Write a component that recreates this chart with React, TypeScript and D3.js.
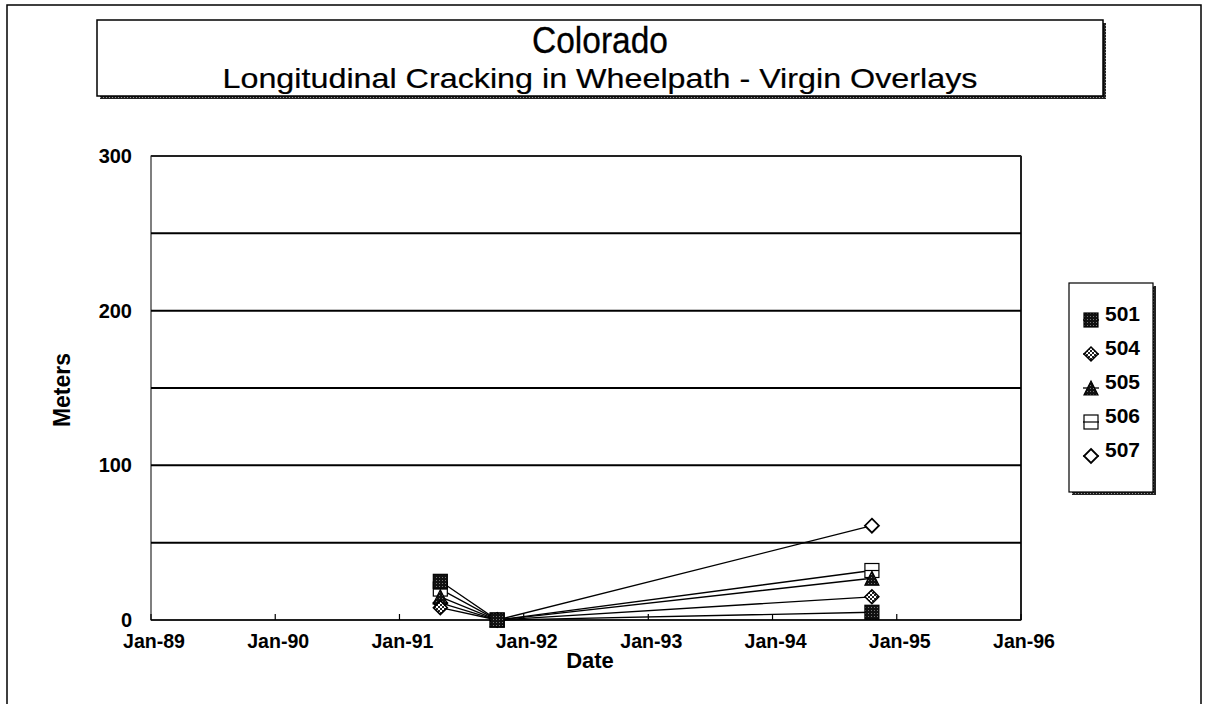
import React from "react";
import * as d3 from "d3";

const seriesNames = ["501", "504", "505", "506", "507"];
const dates = ["1991-05-01", "1991-10-15", "1994-10-20"];
const v501 = [25, 0, 5];
const v504 = [8, 0, 15];
const v505 = [15, 0, 27];
const v506 = [20, 0, 32];
const v507 = [11, 0, 61];
const seriesValues = [v501, v504, v505, v506, v507];
const xTickYears = [1989, 1990, 1991, 1992, 1993, 1994, 1995, 1996];
const yTicks = [0, 100, 200, 300];
const yGrid = [50, 100, 150, 200, 250];

const W = 1206;
const H = 704;
const plot = { left: 151, right: 1021, top: 156, bottom: 620 };
const FONT = "'Liberation Sans', Arial, sans-serif";

function Marker({ type, x, y }: { type: string; x: number; y: number }) {
  const s = 7;
  if (type === "501") {
    return <rect x={x - s} y={y - s} width={2 * s} height={2 * s} fill="url(#dots)" stroke="#000" strokeWidth={1.2} />;
  }
  if (type === "504") {
    return (
      <path d={`M${x},${y - s}L${x + s},${y}L${x},${y + s}L${x - s},${y}Z`} fill="url(#check)" stroke="#000" strokeWidth={1.5} />
    );
  }
  if (type === "505") {
    return (
      <path d={`M${x},${y - s}L${x + s},${y + s}L${x - s},${y + s}Z`} fill="url(#dots)" stroke="#000" strokeWidth={1.2} />
    );
  }
  if (type === "506") {
    return (
      <g>
        <rect x={x - s} y={y - s} width={2 * s} height={2 * s} fill="#fff" stroke="#000" strokeWidth={1.2} />
        <line x1={x - s} x2={x + s} y1={y} y2={y} stroke="#000" strokeWidth={1.2} />
      </g>
    );
  }
  return (
    <path d={`M${x},${y - s}L${x + s},${y}L${x},${y + s}L${x - s},${y}Z`} fill="#fff" stroke="#000" strokeWidth={1.8} />
  );
}

export default function App() {
  const parse = d3.timeParse("%Y-%m-%d");
  const xDates = dates.map((d) => parse(d) as Date);
  const x = d3
    .scaleTime()
    .domain([new Date(1989, 0, 1), new Date(1996, 0, 1)])
    .range([plot.left, plot.right]);
  const y = d3.scaleLinear().domain([0, 300]).range([plot.bottom, plot.top]);
  const fmt = d3.timeFormat("%b-%y");
  const line = d3
    .line<number>()
    .x((_, i) => x(xDates[i]))
    .y((v) => y(v));

  const order = [4, 3, 2, 1, 0];
  const legendX = 1069;
  const legendY = 283;
  const legendW = 84;
  const legendH = 209;

  return (
    <svg width={W} height={H} style={{ position: "absolute", left: 0, top: 0, background: "#fff" }} fontFamily={FONT}>
      <defs>
        <pattern id="dots" width="3" height="3" patternUnits="userSpaceOnUse">
          <rect width="3" height="3" fill="#111" />
          <rect x="1" y="1" width="1" height="1" fill="#777" />
        </pattern>
        <pattern id="check" width="4" height="4" patternUnits="userSpaceOnUse">
          <rect width="4" height="4" fill="#fff" />
          <rect width="2" height="2" fill="#222" />
          <rect x="2" y="2" width="2" height="2" fill="#222" />
        </pattern>
        <pattern id="shadow" width="3" height="3" patternUnits="userSpaceOnUse">
          <rect width="3" height="3" fill="#222" />
          <rect x="1" y="1" width="1" height="1" fill="#999" />
        </pattern>
      </defs>

      {/* outer border */}
      <rect x={7} y={5} width={1194} height={720} fill="none" stroke="#000" strokeWidth={1.5} />

      {/* title box */}
      <rect x={100} y={23} width={1006} height={76} fill="url(#shadow)" />
      <rect x={97} y={20} width={1006} height={76} fill="#fff" stroke="#000" strokeWidth={1.5} />
      <text x={600} y={53} textAnchor="middle" fontSize={36} fill="#000" stroke="#000" strokeWidth={0.3} textLength={136} lengthAdjust="spacingAndGlyphs">
        Colorado
      </text>
      <text x={600} y={88} textAnchor="middle" fontSize={28} fill="#000" stroke="#000" strokeWidth={0.2} textLength={755} lengthAdjust="spacingAndGlyphs">
        Longitudinal Cracking in Wheelpath - Virgin Overlays
      </text>

      {/* plot area */}
      <rect x={plot.left} y={plot.top} width={plot.right - plot.left} height={plot.bottom - plot.top} fill="#fff" stroke="#000" strokeWidth={1} />
      <line x1={plot.left} x2={plot.right} y1={plot.top} y2={plot.top} stroke="#222" strokeWidth={2} />
      <line x1={plot.right} x2={plot.right} y1={plot.top} y2={plot.bottom} stroke="#222" strokeWidth={2} />
      {yGrid.map((g) => (
        <line key={g} x1={plot.left} x2={plot.right} y1={y(g)} y2={y(g)} stroke="#000" strokeWidth={2} />
      ))}
      <line x1={plot.left} x2={plot.right} y1={plot.bottom} y2={plot.bottom} stroke="#000" strokeWidth={1.5} />

      {/* x ticks */}
      {xTickYears.map((yr) => {
        const d = new Date(yr, 0, 1);
        const px = x(d);
        return (
          <g key={yr}>
            <line x1={px} x2={px} y1={plot.bottom} y2={plot.bottom - 6} stroke="#000" strokeWidth={1.2} />
            <text x={px + 3} y={plot.bottom + 28} textAnchor="middle" fontSize={21} fontWeight="bold" fill="#000" textLength={62} lengthAdjust="spacingAndGlyphs">
              {fmt(d)}
            </text>
          </g>
        );
      })}

      {/* y ticks */}
      {yTicks.map((t) => (
        <text key={t} x={132} y={y(t) + 7} textAnchor="end" fontSize={20} fontWeight="bold" fill="#000">
          {t}
        </text>
      ))}

      <text x={590} y={668} textAnchor="middle" fontSize={22} fontWeight="bold" fill="#000">
        Date
      </text>
      <text transform={`translate(70,390) rotate(-90)`} textAnchor="middle" fontSize={23} fontWeight="bold" fill="#000">
        Meters
      </text>

      {/* series */}
      {order.map((si) => (
        <path key={"l" + si} d={line(seriesValues[si]) || ""} fill="none" stroke="#000" strokeWidth={1.3} />
      ))}
      {order.map((si) =>
        seriesValues[si].map((v, i) => (
          <Marker key={seriesNames[si] + i} type={seriesNames[si]} x={x(xDates[i])} y={y(v)} />
        ))
      )}

      {/* legend */}
      <rect x={legendX + 3} y={legendY + 3} width={legendW} height={legendH} fill="url(#shadow)" />
      <rect x={legendX} y={legendY} width={legendW} height={legendH} fill="#fff" stroke="#000" strokeWidth={1.2} />
      {seriesNames.map((name, i) => {
        const ly = legendY + 37 + i * 34;
        return (
          <g key={name}>
            <line x1={legendX + 14} x2={legendX + 30} y1={ly} y2={ly} stroke="#000" strokeWidth={1.3} />
            <Marker type={name} x={legendX + 22} y={ly} />
            <text x={legendX + 36} y={ly + 1} fontSize={21} fontWeight="bold" fill="#000">
              {name}
            </text>
          </g>
        );
      })}
    </svg>
  );
}
